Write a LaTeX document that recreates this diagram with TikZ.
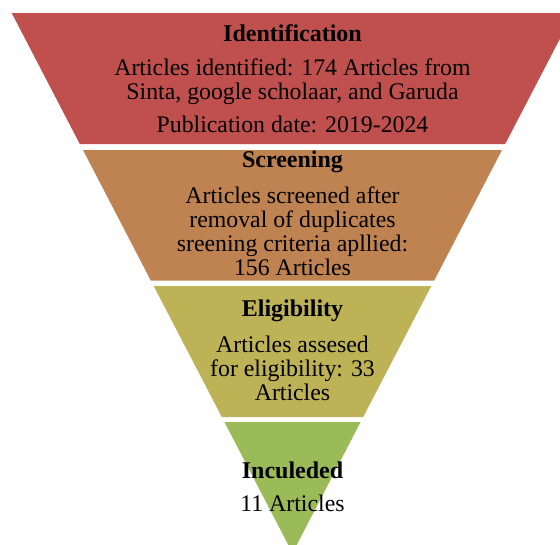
\documentclass[tikz,border=0pt]{standalone}
\usepackage{fontspec}
\setmainfont{Liberation Serif}
\usetikzlibrary{positioning}
\definecolor{identred}{HTML}{C0504D}
\definecolor{screenorange}{HTML}{BF8351}
\definecolor{eligolive}{HTML}{BDB255}
\definecolor{inclgreen}{HTML}{9BBB59}

\begin{document}
\begin{tikzpicture}[x=1pt,y=-1pt,
		headnode/.style={font=\fontsize{24}{24}\selectfont\bfseries, inner sep=0pt},
		bodynode/.style={font=\fontsize{23.8}{24}\selectfont, align=center, inner sep=0pt},
	]
	\useasboundingbox (0,0) rectangle (560,544);
	%Bands
	\begin{scope}
		\clip (0,0) rectangle (560,544);
		\fill[identred]     (11.7,13)  -- (573.3,13)  -- (505.2,144)   -- (79.8,144)   -- cycle;
		\fill[screenorange] (83,150)   -- (502,150)   -- (434.1,280.7) -- (150.9,280.7) -- cycle;
		\fill[eligolive]    (153.7,286) -- (431.3,286) -- (363.2,417)  -- (221.8,417)  -- cycle;
		\fill[inclgreen]    (224.4,422) -- (360.6,422) -- (292.5,553)  -- cycle;
	\end{scope}
	%Texts
	\node[headnode] (identhead)  at (292.5,33)  {Identification};
	\node[bodynode] (identbody)  at (292.5,81.5)  {Articles identified: 174 Articles from\\Sinta, google scholaar, and Garuda};
	\node[bodynode] (identdate)  at (292.5,124) {Publication date: 2019-2024};
	\node[headnode] (screenhead) at (292.5,162) {Screening};
	\node[bodynode] (screenbody) at (292.5,231.5) {Articles screened after\\removal of duplicates\\sreening criteria apllied:\\156 Articles};
	\node[headnode] (eligihead)  at (292.5,310.5) {Eligibility};
	\node[bodynode] (eligibody)  at (292.5,368) {Articles assesed\\for eligibility: 33\\Articles};
	\node[headnode] (inclhead)   at (292.5,470) {Inculeded};
	\node[bodynode] (inclbody)   at (292.5,503) {11 Articles};
\end{tikzpicture}
\end{document}
